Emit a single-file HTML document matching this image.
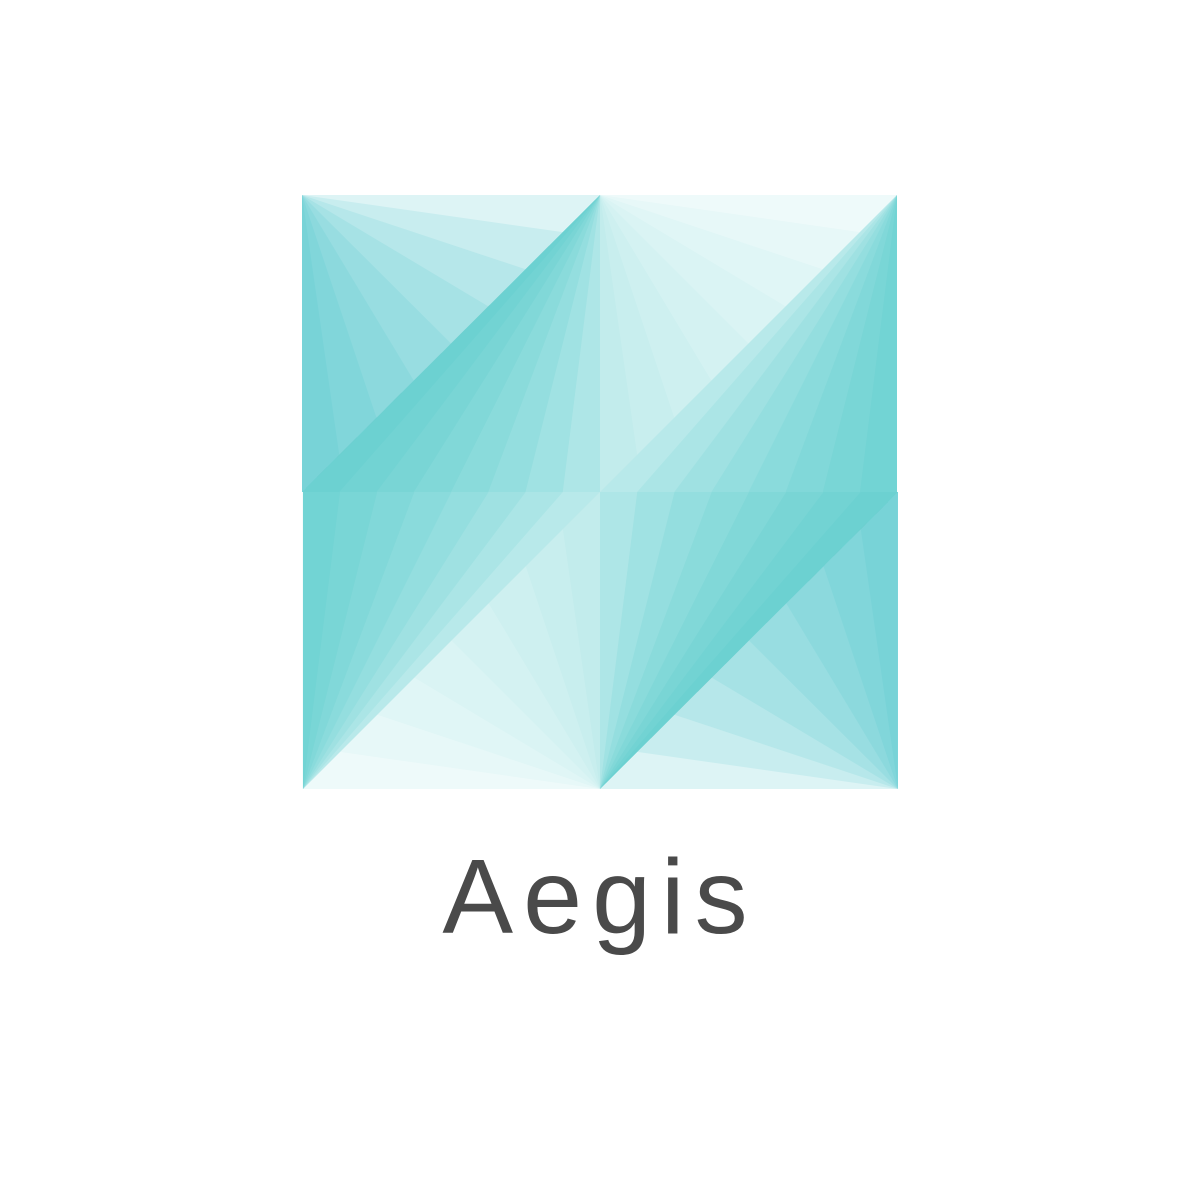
<!DOCTYPE html>
<html><head><meta charset="utf-8"><style>
html,body{margin:0;padding:0;background:#fff;width:1200px;height:1200px;overflow:hidden}
</style></head><body>
<svg width="1200" height="1200" viewBox="0 0 1200 1200">
<rect x="302" y="195" width="595" height="594" fill="#f5fcfc"/>
<g id="tl"></g>
<g id="tr"></g>
<g id="bl" transform="rotate(180 600 492)"></g>
<g id="br" transform="rotate(180 600 492)"></g>
<text x="600" y="933" text-anchor="middle" font-family="Liberation Sans, sans-serif" font-size="106" letter-spacing="10" fill="#4a4a4a">Aegis</text>
</svg>
<script>
const C='#3fc4c6';
const steps=[1,2,3,4,5,6,7,8];
function tri(g,p,op){
  const el=document.createElementNS('http://www.w3.org/2000/svg','polygon');
  el.setAttribute('points',p.map(q=>q.join(',')).join(' '));
  el.setAttribute('fill',C);el.setAttribute('fill-opacity',op);
  
  
  g.appendChild(el);
}
function lerp(a,b,t){return [a[0]+(b[0]-a[0])*t,a[1]+(b[1]-a[1])*t];}
function tlFans(g){
  const A=[302,195],B=[302,492],T=[600,195],M=[600,492];
  steps.forEach(i=>tri(g,[A,B,lerp(B,T,i/8)],0.13));
  tri(g,[T,B,M],0.3);
  steps.forEach(i=>tri(g,[T,B,lerp(B,M,i/8)],0.12));
}
function trFans(g){
  const A=[897,195],B=[897,492],T=[600,195],M=[600,492];
  tri(g,[A,B,M],0.25);
  steps.forEach(i=>tri(g,[A,B,lerp(B,M,i/8)],0.1));
  steps.forEach(i=>tri(g,[T,M,lerp(M,A,i/8)],0.035));
}
tlFans(document.getElementById('tl'));
trFans(document.getElementById('tr'));
trFans(document.getElementById('bl'));
tlFans(document.getElementById('br'));
</script>
</body></html>
